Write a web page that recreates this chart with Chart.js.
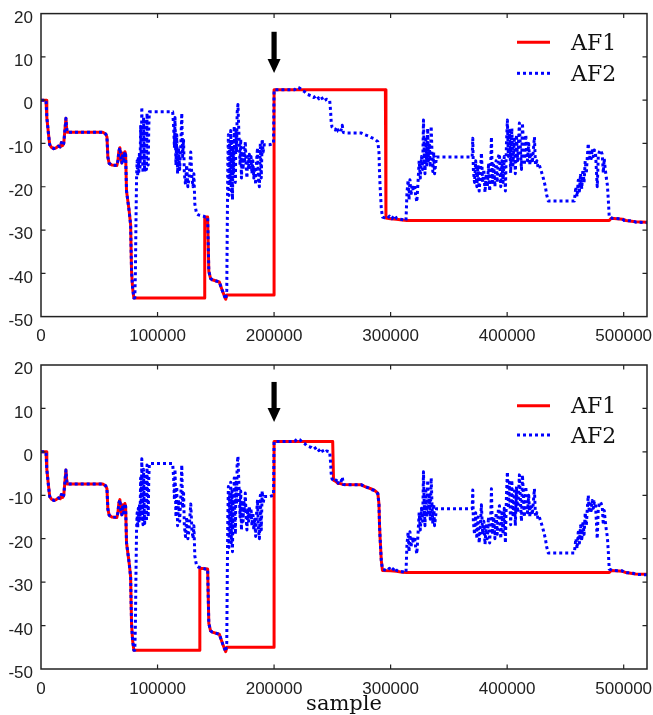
<!DOCTYPE html>
<html><head><meta charset="utf-8">
<script src="https://cdn.jsdelivr.net/npm/chart.js@4.4.1/dist/chart.umd.min.js"></script>
<style>
html,body{margin:0;padding:0;background:#fff;}
#wrap{position:relative;width:653px;height:715px;background:#fff;}
.panel{position:absolute;left:0;width:653px;}
</style></head><body>
<div id="wrap">
<div class="panel" style="top:0;height:345px"><canvas id="c1" width="653" height="345"></canvas></div>
<div class="panel" style="top:350px;height:365px"><canvas id="c2" width="653" height="365"></canvas></div>
</div>
<script>
// ---------- data ----------
const xTicks = [0, 100000, 200000, 300000, 400000, 500000];
const yTicks = [-50, -40, -30, -20, -10, 0, 10, 20];
const seriesNames = ['AF1', 'AF2'];
const xAxisTitle = 'sample';

// shared beginning of both filters (identical in both panels)
const startSample = [0,4300,5000,6500,7500,9000,11000,13000,15000,16500,17500,18500,19500,20500,21400,22000,22500,53000,55500,56600,57400,58500,60800,65100,66000,66800,67700,68500,69400,70200,71000,72000,72600,73400,75700,76900,77700,78600,79700,80500];
const startValue  = [0,0,-4,-8,-10.3,-10.9,-11.2,-11,-10.6,-10.8,-9.8,-10.5,-10,-7,-4.2,-6.5,-7.4,-7.4,-7.8,-8.5,-13.2,-14.6,-15,-15.1,-14,-11.8,-11,-13.5,-14.5,-12.2,-14,-11.9,-12.5,-21,-25.7,-28.8,-39.6,-43.4,-45.7,-45.7];

// AF1, top panel (after the shared start)
const af1TopSample = [140500,140500,143000,144000,145500,147000,153000,156000,158500,159500,200000,200000,295500,296000,300000,305000,310000,314000,487600,489300,499000,502000,510000,520000];
const af1TopValue  = [-45.7,-27,-27,-39.5,-41.2,-41.5,-42,-44.3,-46,-45,-45,2.4,2.4,-27.2,-27.4,-27.5,-27.7,-27.8,-27.8,-27.3,-27.5,-27.8,-28.1,-28.2];

// AF1, bottom panel (after the shared start)
const af1BotSample = [136300,136300,143000,144000,145500,147000,153000,156000,158500,159500,200000,200000,250300,251000,253000,255000,257000,259000,275000,278000,281000,283000,286000,289000,290000,290500,291000,292000,293000,300000,305000,310000,314000,487600,489300,499000,502000,510000,520000];
const af1BotValue  = [-45.7,-26.8,-27,-39.5,-41.2,-41.5,-42,-44.3,-46,-45,-45,2.4,2.4,-6.5,-6.8,-7.3,-7.3,-7.5,-7.6,-8,-8.3,-8.5,-8.8,-9.5,-12,-17,-20,-25,-27.3,-27.4,-27.5,-27.7,-27.8,-27.8,-27.3,-27.5,-27.8,-28.1,-28.2];

// AF2 (same in both panels, after the shared start)
const af2Sample = [81000,81500,82000,82500,83000,83500,84000,84500,85000,85500,86000,86500,87000,87500,88000,88500,89000,89500,90000,90500,91000,91500,92000,92500,93000,113000,113800,114500,115000,115800,116500,117200,118000,119000,120000,120800,121500,122300,123000,124000,125000,126000,127000,128500,129500,130500,131200,132000,133500,135000,139500,141000,143000,144000,145500,147000,153000,156000,158500,159400,159800,160300,160800,161300,161800,162300,162800,163300,163800,164300,164800,165300,165800,166300,166800,167300,167800,168300,169000,169600,170200,170800,171400,172000,172700,173400,174000,174700,175300,176000,176700,177400,178100,178800,179500,180200,181000,181800,182600,183400,184200,185000,185800,186600,187400,188200,189000,189800,190600,191500,196000,199500,200000,217700,220000,222000,224000,226000,228000,230000,232000,234000,236500,238500,240500,242500,245000,247700,248500,249000,249700,251000,252500,254000,255000,257000,258500,259500,262000,275000,278000,281000,283000,286000,289000,290000,290500,291000,292000,293000,295000,297000,299000,301000,303500,305000,308000,312000,313200,314000,315000,315800,316600,317500,318500,319500,320500,321500,322500,323500,324500,325500,326500,327500,328200,328800,329500,330200,331000,331800,332500,333200,334000,334800,335500,336200,337000,337700,339400,370000,370500,371000,372000,373000,374000,375000,376000,377000,377900,379000,380000,381000,382000,383000,384000,385000,386000,386500,387400,388500,389500,390500,391500,392500,393400,394500,395500,396500,397500,398500,399400,400200,401000,402000,403000,404000,405000,406200,407000,408000,409000,410500,411500,412300,413100,414000,414800,416000,417400,418500,419500,420500,421600,423400,424300,425500,426500,427600,429400,431000,432800,434000,435300,457600,459000,460000,461000,462000,463000,464000,465000,466000,467000,467900,468800,469600,470500,471500,472200,473000,474000,474800,475800,477300,478200,479000,480000,481600,482500,483300,484200,485100,486000,486800,487600,489300,490200,498800,500500,507300,510800,520000];
const af2Value  = [-40,-28,-18,-14,-17.5,-13,-16.5,-12,-15.5,-6,-14,-1.6,-12,-16.8,-4,-13,-16.5,-5,-12,-16,-3,-10,-15,-6,-2.7,-2.7,-6,-11,-4,-15,-8,-17,-11,-16,-10,-3,-13,-9,-17,-19.5,-15,-20,-18,-12,-18,-20,-17,-24,-26.2,-26.5,-26.8,-27,-27,-39.5,-41.2,-41.5,-42,-44.3,-46,-44,-30,-15,-8,-22,-10,-19,-7,-21,-9,-23,-11,-17,-6,-14,-19,-7,-12,-3,-1,-6,-10,-15,-9,-18,-12,-16,-11,-14,-9.5,-15,-18,-13,-16,-12.5,-15.5,-13,-17,-14,-18,-15.5,-19.5,-14,-11,-18,-20,-10,-18,-9,-12,-10.3,-10.3,-10,2.4,2.4,3.0,2.8,2.3,2.0,1.4,1.2,1.0,0.6,1.1,0.3,0.8,-0.2,0.2,0,-2.5,-5,-6.2,-6.6,-6.9,-6.2,-7.2,-7.4,-5.8,-7.5,-7.6,-7.6,-8,-8.3,-8.6,-8.9,-9.6,-12,-17,-20,-25,-27,-27.2,-27.4,-26.8,-27.4,-26.6,-27.3,-27.5,-27.7,-27.8,-21.5,-18.5,-23,-18.4,-22,-19.6,-21,-19.5,-22,-23.5,-19,-14,-18,-13,-16,-4.6,-12,-17,-9,-15,-6.5,-14,-10,-15.5,-6,-12,-16.5,-12,-17,-13.1,-13.1,-8.8,-16,-19,-14,-20,-15,-21,-17,-12.2,-19,-16,-21.3,-17,-20,-15,-21,-14,-8.5,-19,-15,-20,-14,-19,-13,-12.4,-20,-14,-19,-13,-21,-10,-4.6,-13,-7,-16.8,-6.5,-15,-9,-17,-8,-14,-5.3,-12,-16,-5.3,-10,-15,-8,-14,-10,-15,-12,-14.5,-8.5,-15,-14,-15.5,-15,-16.5,-18,-20,-22,-23.3,-23.3,-20,-22.3,-18.5,-21,-17,-20.5,-16,-19,-14,-17,-13,-10,-14,-12,-13.5,-11.2,-13,-11.5,-12,-20,-13,-12,-11.5,-12.5,-16.8,-13.5,-16,-18,-19.6,-23,-27,-27.2,-27.3,-27.4,-27.8,-27.9,-28.2,-28.3];

// arrow marks (data units) per panel
const arrowSample = 200000;
const arrowTop = [15.8, 16.1];
const arrowTip = [6.3, 6.9];

// ---------- helpers ----------
function pts(xs, ys) { return xs.map((x, i) => ({x: x, y: ys[i]})); }
const af1TopData = pts(startSample.concat(af1TopSample), startValue.concat(af1TopValue));
const af1BotData = pts(startSample.concat(af1BotSample), startValue.concat(af1BotValue));
const af2Data = pts(startSample.concat(af2Sample), startValue.concat(af2Value));

const RED = '#ff0000', BLUE = '#0000ff';

const framePlugin = {
  id: 'frame',
  afterDatasetsDraw(chart) {
    const {ctx, chartArea: a, scales} = chart;
    ctx.save();
    ctx.strokeStyle = '#222';
    ctx.lineWidth = 1.5;
    ctx.strokeRect(a.left, a.top, a.right - a.left, a.bottom - a.top);
    ctx.lineWidth = 1.2;
    ctx.beginPath();
    const L = 4.5;
    xTicks.forEach(v => {
      const px = scales.x.getPixelForValue(v);
      if (px <= a.left + 1 || px >= a.right - 1) return;
      ctx.moveTo(px, a.bottom); ctx.lineTo(px, a.bottom - L);
      ctx.moveTo(px, a.top); ctx.lineTo(px, a.top + L);
    });
    yTicks.forEach(v => {
      const py = scales.y.getPixelForValue(v);
      if (py <= a.top + 1 || py >= a.bottom - 1) return;
      ctx.moveTo(a.left, py); ctx.lineTo(a.left + L, py);
      ctx.moveTo(a.right, py); ctx.lineTo(a.right - L, py);
    });
    ctx.stroke();
    ctx.restore();
  }
};

const arrowPlugin = {
  id: 'arrowMark',
  afterDatasetsDraw(chart, args, opts) {
    const {ctx, scales} = chart;
    const x = scales.x.getPixelForValue(opts.sample);
    const y0 = scales.y.getPixelForValue(opts.top);
    const y1 = scales.y.getPixelForValue(opts.tip);
    const head = 14, hw = 6.5, sw = 2.6;
    ctx.save();
    ctx.fillStyle = '#000';
    ctx.fillRect(x - sw, y0, sw * 2, (y1 - head) - y0 + 1);
    ctx.beginPath();
    ctx.moveTo(x - hw, y1 - head);
    ctx.lineTo(x + hw, y1 - head);
    ctx.lineTo(x, y1);
    ctx.closePath();
    ctx.fill();
    ctx.restore();
  }
};

const legendPlugin = {
  id: 'boxLegend',
  afterDraw(chart, args, opts) {
    const {ctx} = chart;
    ctx.save();
    chart.data.datasets.slice().sort((a, b) => a.legendRank - b.legendRank).forEach((ds, i) => {
      const y = opts.rows[i];
      ctx.strokeStyle = ds.borderColor;
      ctx.lineWidth = ds.borderWidth;
      ctx.setLineDash(ds.borderDash || []);
      ctx.beginPath();
      ctx.moveTo(opts.x, y);
      ctx.lineTo(opts.x + opts.len, y);
      ctx.stroke();
      ctx.setLineDash([]);
      ctx.fillStyle = '#111';
      ctx.font = opts.font;
      ctx.textAlign = 'left';
      ctx.textBaseline = 'middle';
      ctx.fillText(ds.label, opts.textX, y + opts.textDy);
    });
    ctx.restore();
  }
};

Chart.defaults.font.family = "'Liberation Sans', Arial, sans-serif";
Chart.defaults.color = '#222';

function makeChart(id, af1Data, panel) {
  const cfg = panel === 0
    ? {padTop: 13.6, xH: 28.4, legendRows: [42.3, 73.3], showTitle: false}
    : {padTop: 15, xH: 46, legendRows: [55.7, 85], showTitle: true};
  return new Chart(document.getElementById(id), {
    type: 'line',
    data: {
      datasets: [
        {label: seriesNames[1], data: af2Data, borderColor: BLUE, borderWidth: 3, borderDash: [3, 3],
         borderJoinStyle: 'round', pointRadius: 0, tension: 0, order: 0, legendRank: 1},
        {label: seriesNames[0], data: af1Data, borderColor: RED, borderWidth: 3,
         borderJoinStyle: 'round', pointRadius: 0, tension: 0, order: 1, legendRank: 0}
      ]
    },
    options: {
      responsive: false,
      animation: false,
      parsing: true,
      layout: {padding: {top: cfg.padTop, right: 6, left: 0, bottom: 0}},
      plugins: {
        legend: {display: false},
        tooltip: {enabled: false},
        arrowMark: {sample: arrowSample, top: arrowTop[panel], tip: arrowTip[panel]},
        boxLegend: {rows: cfg.legendRows, x: 517, len: 33, textX: 571, textDy: 2,
                    font: "22px 'DejaVu Serif', serif"}
      },
      scales: {
        x: {
          type: 'linear', min: 0, max: 520000,
          grid: {display: false, drawTicks: false},
          border: {display: false},
          afterBuildTicks: s => { s.ticks = xTicks.map(v => ({value: v})); },
          afterFit: s => { s.height = cfg.xH; s.paddingLeft = 0; s.paddingRight = 0; s.paddingTop = 0; s.paddingBottom = 0; },
          ticks: {font: {size: 17}, padding: 10, maxRotation: 0, color: '#222',
                  callback: v => String(v)},
          title: {display: cfg.showTitle, text: xAxisTitle, color: '#111',
                  font: {family: "'DejaVu Serif', serif", size: 21, lineHeight: 0.95}, padding: {top: 0, bottom: 0}}
        },
        y: {
          type: 'linear', min: -50, max: 20,
          grid: {display: false, drawTicks: false},
          border: {display: false},
          afterBuildTicks: s => { s.ticks = yTicks.map(v => ({value: v})); },
          afterFit: s => { s.width = 41; s.paddingLeft = 0; s.paddingRight = 0; s.paddingTop = 0; s.paddingBottom = 0; },
          ticks: {font: {size: 17}, padding: 8, labelOffset: 4.5, color: '#222'}
        }
      }
    },
    plugins: [framePlugin, arrowPlugin, legendPlugin]
  });
}

makeChart('c1', af1TopData, 0);
makeChart('c2', af1BotData, 1);
</script>
</body></html>
